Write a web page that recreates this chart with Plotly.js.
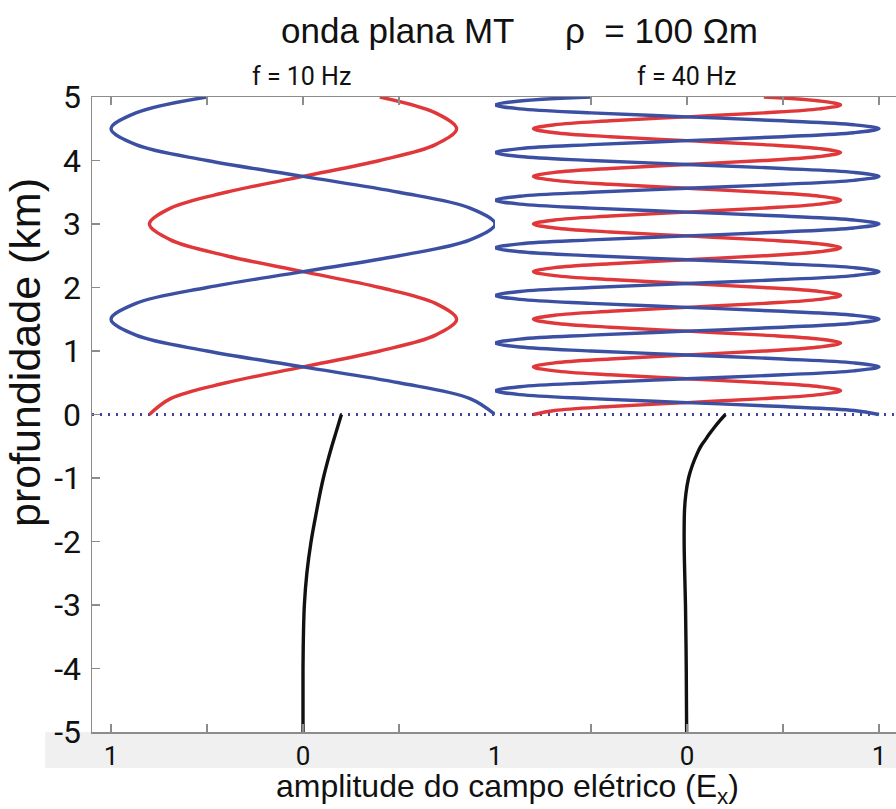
<!DOCTYPE html>
<html>
<head>
<meta charset="utf-8">
<script src="https://cdn.plot.ly/plotly-3.0.1.min.js"></script>
<style>
  html, body { margin: 0; padding: 0; overflow: hidden; background: #fff; }
  #chart { width: 900px; height: 809px; }
</style>
</head>
<body>
<div id="chart"></div>
<script>
// Height above the surface (km), 10 Hz standing wave in the air
const depth10 = [0, 0.25, 0.5, 0.75, 1, 1.25, 1.5, 1.75, 2, 2.25, 2.5, 2.75, 3,
                 3.25, 3.5, 3.75, 4, 4.25, 4.5, 4.75, 5];
const blue10 = [1, 0.87, 0.5, 0, -0.5, -0.87, -1, -0.87, -0.5, 0, 0.5, 0.87, 1,
                0.87, 0.5, 0, -0.5, -0.87, -1, -0.87, -0.5];
const red10 = [-0.8, -0.69, -0.4, 0, 0.4, 0.69, 0.8, 0.69, 0.4, 0, -0.4, -0.69, -0.8,
               -0.69, -0.4, 0, 0.4, 0.69, 0.8, 0.69, 0.4];

// Height above the surface (km), 40 Hz standing wave in the air
const depth40 = [
  0, 0.0625, 0.125, 0.1875, 0.25, 0.3125, 0.375, 0.4375, 0.5, 0.5625, 0.625, 0.6875, 0.75, 0.8125, 0.875, 0.9375,
  1, 1.0625, 1.125, 1.1875, 1.25, 1.3125, 1.375, 1.4375, 1.5, 1.5625, 1.625, 1.6875, 1.75, 1.8125, 1.875, 1.9375,
  2, 2.0625, 2.125, 2.1875, 2.25, 2.3125, 2.375, 2.4375, 2.5, 2.5625, 2.625, 2.6875, 2.75, 2.8125, 2.875, 2.9375,
  3, 3.0625, 3.125, 3.1875, 3.25, 3.3125, 3.375, 3.4375, 3.5, 3.5625, 3.625, 3.6875, 3.75, 3.8125, 3.875, 3.9375,
  4, 4.0625, 4.125, 4.1875, 4.25, 4.3125, 4.375, 4.4375, 4.5, 4.5625, 4.625, 4.6875, 4.75, 4.8125, 4.875, 4.9375,
  5];
const blue40 = [
  1, 0.87, 0.5, 0, -0.5, -0.87, -1, -0.87, -0.5, 0, 0.5, 0.87,
  1, 0.87, 0.5, 0, -0.5, -0.87, -1, -0.87, -0.5, 0, 0.5, 0.87,
  1, 0.87, 0.5, 0, -0.5, -0.87, -1, -0.87, -0.5, 0, 0.5, 0.87,
  1, 0.87, 0.5, 0, -0.5, -0.87, -1, -0.87, -0.5, 0, 0.5, 0.87,
  1, 0.87, 0.5, 0, -0.5, -0.87, -1, -0.87, -0.5, 0, 0.5, 0.87,
  1, 0.87, 0.5, 0, -0.5, -0.87, -1, -0.87, -0.5, 0, 0.5, 0.87,
  1, 0.87, 0.5, 0, -0.5, -0.87, -1, -0.87, -0.5];
const red40 = [
  -0.8, -0.69, -0.4, 0, 0.4, 0.69, 0.8, 0.69, 0.4, 0, -0.4, -0.69,
  -0.8, -0.69, -0.4, 0, 0.4, 0.69, 0.8, 0.69, 0.4, 0, -0.4, -0.69,
  -0.8, -0.69, -0.4, 0, 0.4, 0.69, 0.8, 0.69, 0.4, 0, -0.4, -0.69,
  -0.8, -0.69, -0.4, 0, 0.4, 0.69, 0.8, 0.69, 0.4, 0, -0.4, -0.69,
  -0.8, -0.69, -0.4, 0, 0.4, 0.69, 0.8, 0.69, 0.4, 0, -0.4, -0.69,
  -0.8, -0.69, -0.4, 0, 0.4, 0.69, 0.8, 0.69, 0.4, 0, -0.4, -0.69,
  -0.8, -0.69, -0.4, 0, 0.4, 0.69, 0.8, 0.69, 0.4];

// Field decaying into the ground (depth in km, negative downwards)
const groundDepth10 = [0, -0.25, -0.5, -0.75, -1, -1.25, -1.5, -2, -2.5, -3, -3.5, -4, -5];
const ground10 = [0.2, 0.175, 0.15, 0.127, 0.106, 0.088, 0.072, 0.042, 0.02, 0.007, 0.002, 0, 0];
const groundDepth40 = [0, -0.1, -0.2, -0.3, -0.4, -0.5, -0.6, -0.8, -1, -1.25, -1.5, -2, -2.5, -3, -4, -5];
const ground40 = [0.2, 0.17, 0.143, 0.118, 0.095, 0.072, 0.055, 0.028, 0.008, -0.006, -0.013, -0.015, -0.012, -0.008, -0.004, -0.002];

// Axis ticks
const depthTicks = [-5, -4, -3, -2, -1, 0, 1, 2, 3, 4, 5];
const depthLabels = ['-5', '-4', '-3', '-2', '-1', '0', '1', '2', '3', '4', '5'];
const ampTicks = [-1, -0.5, 0, 0.5, 1];
const ampLabelsLeft = ['1', '', '0', '', '1'];
const ampLabelsRight = ['', '', '0', '', '1'];

const RED = '#e0373a';
const BLUE = '#3c50a3';
const BLACK = '#111111';
const AXIS = '#8c8c8c';
const SANS = 'Liberation Sans, Arial, Helvetica, sans-serif';
const TICKFONT = 'Roboto, Liberation Sans, Arial, sans-serif';

function curve(x, y, color, xaxis) {
  return {
    type: 'scatter', mode: 'lines', x: x, y: y, xaxis: xaxis, yaxis: 'y',
    line: { color: color, width: 3.4, shape: 'spline', smoothing: 1 },
    hoverinfo: 'skip', showlegend: false
  };
}

const traces = [
  curve(red10, depth10, RED, 'x'),
  curve(blue10, depth10, BLUE, 'x'),
  curve(ground10, groundDepth10, BLACK, 'x'),
  curve(red40, depth40, RED, 'x2'),
  curve(blue40, depth40, BLUE, 'x2'),
  curve(ground40, groundDepth40, BLACK, 'x2')
];

const commonX = {
  tickmode: 'array', tickvals: ampTicks,
  ticks: 'inside', ticklen: 8, tickwidth: 1.5, tickcolor: AXIS,
  showline: true, linecolor: AXIS, linewidth: 1.5, mirror: 'ticks',
  showgrid: false, zeroline: false,
  tickfont: { family: TICKFONT, size: 26, color: '#111' }
};

const layout = {
  width: 900, height: 809,
  margin: { l: 92, r: 1, t: 97, b: 77 },
  paper_bgcolor: '#ffffff', plot_bgcolor: 'rgba(0,0,0,0)',
  showlegend: false,
  xaxis: Object.assign({}, commonX, {
    domain: [0, 0.4994], range: [-1.099, 1], anchor: 'y', ticktext: ampLabelsLeft
  }),
  xaxis2: Object.assign({}, commonX, {
    domain: [0.4994, 1], range: [-1, 1.104], anchor: 'y', ticktext: ampLabelsRight
  }),
  yaxis: {
    range: [-5, 5], tickmode: 'array', tickvals: depthTicks, ticktext: depthLabels,
    ticks: 'inside', ticklen: 8, tickwidth: 1.5, tickcolor: AXIS,
    showline: true, linecolor: AXIS, linewidth: 1.5, mirror: false,
    showgrid: false, zeroline: false, ticklabelstandoff: 3,
    tickfont: { family: TICKFONT, size: 32, color: '#111' }
  },
  yaxis2: {
    overlaying: 'y', anchor: 'x2', side: 'right',
    range: [-5, 5], tickmode: 'array', tickvals: depthTicks,
    ticks: 'inside', ticklen: 8, tickwidth: 1.5, tickcolor: AXIS,
    showticklabels: false, showline: false, showgrid: false, zeroline: false
  },
  shapes: [
    { type: 'rect', xref: 'paper', yref: 'paper', x0: -0.058, x1: 1.01, y0: -0.0567, y1: 0,
      fillcolor: '#f0f0f0', line: { width: 0 }, layer: 'below' },
    { type: 'line', xref: 'paper', yref: 'y', x0: 0, x1: 1, y0: 0, y1: 0,
      line: { color: '#4040a0', width: 3, dash: '2px,6px' }, layer: 'below' }
  ],
  annotations: [
    { text: 'onda plana MT', xref: 'paper', yref: 'paper', x: (279 - 92) / 807, y: 1.1055,
      xanchor: 'left', yanchor: 'middle', showarrow: false,
      font: { family: SANS, size: 35, color: '#111' } },
    { text: 'ρ\u00A0\u00A0= 100 Ωm', xref: 'paper', yref: 'paper', x: (563 - 92) / 807, y: 1.1055,
      xanchor: 'left', yanchor: 'middle', showarrow: false,
      font: { family: SANS, size: 35, color: '#111' } },
    { text: 'f = 10 Hz', xref: 'paper', yref: 'paper', x: (301 - 92) / 807, y: 1.0315,
      xanchor: 'center', yanchor: 'middle', showarrow: false,
      font: { family: TICKFONT, size: 25, color: '#111' } },
    { text: 'f = 40 Hz', xref: 'paper', yref: 'paper', x: (686 - 92) / 807, y: 1.0315,
      xanchor: 'center', yanchor: 'middle', showarrow: false,
      font: { family: TICKFONT, size: 25, color: '#111' } },
    { text: 'profundidade (km)', xref: 'paper', yref: 'paper', x: (25 - 92) / 807, y: (732 - 353) / 635,
      xanchor: 'center', yanchor: 'middle', showarrow: false, textangle: -90,
      font: { family: SANS, size: 43, color: '#111' } },
    { text: 'amplitude do campo elétrico (E<sub>x</sub>)', xref: 'paper', yref: 'paper',
      x: (508 - 92) / 807, y: (732 - 788.5) / 635,
      xanchor: 'center', yanchor: 'middle', showarrow: false,
      font: { family: SANS, size: 32, color: '#111' } }
  ]
};

Plotly.newPlot('chart', traces, layout, { staticPlot: true, displayModeBar: false });
</script>
</body>
</html>
